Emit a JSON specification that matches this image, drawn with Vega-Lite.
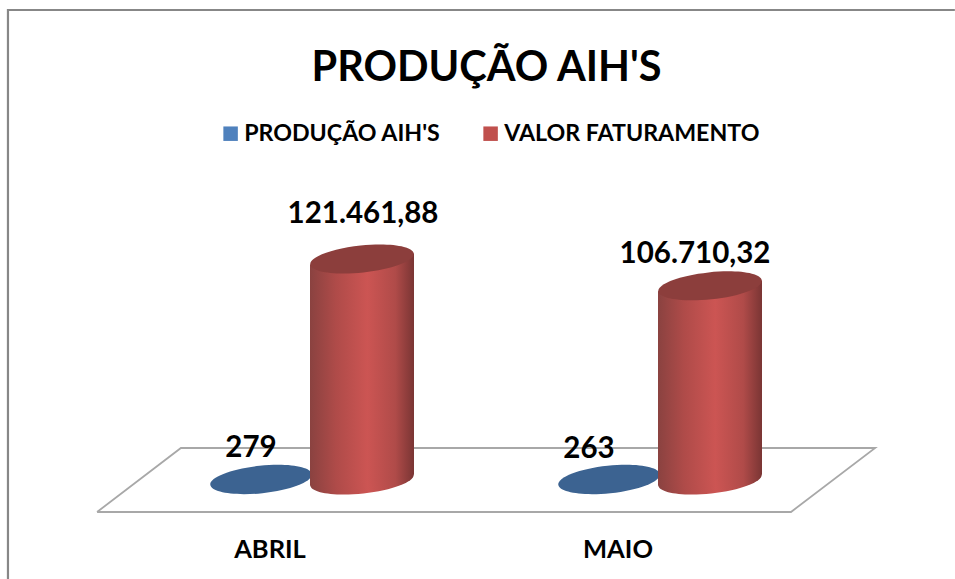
{
"$schema":"https://vega.github.io/schema/vega-lite/v6.json",
"width":955,"height":579,"autosize":"none","padding":0,"background":"white",
"config":{"view":{"stroke":null},"font":"Lato"},
"title":{"text":"PRODUÇÃO AIH'S","font":"Lato","fontSize":41.5,"fontWeight":"bold","color":"black","anchor":"middle","frame":"group","dx":9,"offset":-122,"baseline":"alphabetic"},
"datasets":{
"barras":[
{"mes":"ABRIL","serie":"PRODUÇÃO AIH'S","valor":279,"rotulo":"279"},
{"mes":"ABRIL","serie":"VALOR FATURAMENTO","valor":121461.88,"rotulo":"121.461,88"},
{"mes":"MAIO","serie":"PRODUÇÃO AIH'S","valor":263,"rotulo":"263"},
{"mes":"MAIO","serie":"VALOR FATURAMENTO","valor":106710.32,"rotulo":"106.710,32"}],
"piso":[
{"pos":0.003,"valor":-17587,"ordem":1},{"pos":1.997,"valor":-17587,"ordem":2},{"pos":2.239,"valor":17587,"ordem":3},{"pos":0.244,"valor":17587,"ordem":4},{"pos":0.003,"valor":-17587,"ordem":5}],
"moldura":[
{"pos":-0.253,"valor":-54411,"ordem":1},{"pos":-0.253,"valor":258312,"ordem":2},{"pos":2.468,"valor":258312,"ordem":3}]
},
"data":{"name":"barras"},
"encoding":{"y":{"field":"valor","type":"quantitative","axis":null,"scale":{"domain":[-54411,263808],"range":[579,0],"nice":false,"zero":false}}},
"resolve":{"scale":{"x":"independent"}},
"layer":[
{"data":{"name":"moldura"},"mark":{"type":"line","stroke":"#878787","strokeWidth":2.2,"clip":true},
 "encoding":{"x":{"field":"pos","type":"quantitative","axis":null,"scale":{"domain":[-0.2759,2.4684],"nice":false,"zero":false}},"order":{"field":"ordem"}}},
{"data":{"name":"piso"},"mark":{"type":"line","stroke":"#a8a8a8","strokeWidth":1.8},
 "encoding":{"x":{"field":"pos","type":"quantitative","axis":null,"scale":{"domain":[-0.2759,2.4684],"nice":false,"zero":false}},"order":{"field":"ordem"}}},
{"encoding":{
  "x":{"field":"mes","type":"nominal","title":null,"scale":{"range":[96,792],"paddingInner":0,"paddingOuter":0},
       "axis":{"domain":false,"ticks":false,"labelAngle":0,"labelFont":"Lato","labelFontSize":25.5,"labelFontWeight":"bold","labelColor":"black","offset":-42,"labelPadding":0,"grid":false}},
  "xOffset":{"field":"serie","type":"nominal","scale":{"range":[114.5,316.5],"paddingInner":0,"paddingOuter":0}}},
 "layer":[
 {"mark":{"type":"bar","size":90},
  "encoding":{"y2":{"datum":0},"color":{"field":"serie","type":"nominal","scale":{"domain":["PRODUÇÃO AIH'S","VALOR FATURAMENTO"],"range":["#4f81bd","#c0504d"]},
    "legend":{"title":null,"orient":"none","legendX":219,"legendY":122,"direction":"horizontal","symbolType":"square","symbolSize":210,"labelFont":"Lato","labelFontSize":23.2,"labelFontWeight":"bold","labelColor":"black","labelLimit":400,"columnPadding":38,"labelOffset":2}}}},
 {"transform":[{"filter":"datum.serie==\"PRODUÇÃO AIH'S\""}],
  "mark":{"type":"point","filled":true,"opacity":1,"color":"#3c6391","size":10400,"angle":-6,"shape":"M-1,0A1,0.27,0,1,1,1,0A1,0.27,0,1,1,-1,0Z"}},
 {"transform":[{"filter":"datum.serie==\"VALOR FATURAMENTO\""}],
  "layer":[
  {"mark":{"type":"point","filled":true,"opacity":1,"size":10816,"angle":-6,"shape":"M-1,0A1,0.26,0,1,1,1,0A1,0.26,0,1,1,-1,0Z","color":{"gradient":"linear","x1":0,"x2":1,"y1":0,"y2":0,"stops":[{"offset":0,"color":"#8a4240"},{"offset":0.25,"color":"#af4b49"},{"offset":0.55,"color":"#cc5553"},{"offset":0.82,"color":"#b04b49"},{"offset":1,"color":"#7a3534"}]}},
   "encoding":{"y":{"datum":0}}},
  {"mark":{"type":"point","filled":true,"opacity":1,"size":10816,"shape":"M-1,0.105L1,-0.105L1,-0.45L-1,-0.45Z","color":{"gradient":"linear","x1":0,"x2":1,"y1":0,"y2":0,"stops":[{"offset":0,"color":"#8a4240"},{"offset":0.25,"color":"#af4b49"},{"offset":0.55,"color":"#cc5553"},{"offset":0.82,"color":"#b04b49"},{"offset":1,"color":"#7a3534"}]}},
   "encoding":{"y":{"datum":0}}},
  {"mark":{"type":"bar","size":104,"yOffset":10,"y2Offset":-10,"color":{"gradient":"linear","x1":0,"x2":1,"y1":0,"y2":0,"stops":[{"offset":0,"color":"#8a4240"},{"offset":0.25,"color":"#af4b49"},{"offset":0.55,"color":"#cc5553"},{"offset":0.82,"color":"#b04b49"},{"offset":1,"color":"#7a3534"}]}},
   "encoding":{"y2":{"datum":0}}},
  {"mark":{"type":"point","filled":true,"opacity":1,"size":10816,"shape":"M-1,0.105L1,-0.105L1,0.45L-1,0.45Z","color":{"gradient":"linear","x1":0,"x2":1,"y1":0,"y2":0,"stops":[{"offset":0,"color":"#8a4240"},{"offset":0.25,"color":"#af4b49"},{"offset":0.55,"color":"#cc5553"},{"offset":0.82,"color":"#b04b49"},{"offset":1,"color":"#7a3534"}]}}},
  {"mark":{"type":"point","filled":true,"opacity":1,"size":10816,"angle":-6,"shape":"M-1,0A1,0.26,0,1,1,1,0A1,0.26,0,1,1,-1,0Z","color":"#8c3e3c"}}
  ]},
 {"transform":[{"filter":"datum.mes==\"ABRIL\" && datum.serie==\"PRODUÇÃO AIH'S\""}],
  "mark":{"type":"text","font":"Lato","fontSize":29.5,"fontWeight":"bold","color":"black","dx":-10,"dy":-31},
  "encoding":{"text":{"field":"rotulo"}}},
 {"transform":[{"filter":"datum.mes==\"MAIO\" && datum.serie==\"PRODUÇÃO AIH'S\""}],
  "mark":{"type":"text","font":"Lato","fontSize":29.5,"fontWeight":"bold","color":"black","dx":-20,"dy":-31},
  "encoding":{"text":{"field":"rotulo"}}},
 {"transform":[{"filter":"datum.mes==\"ABRIL\" && datum.serie==\"VALOR FATURAMENTO\""}],
  "mark":{"type":"text","font":"Lato","fontSize":29.5,"fontWeight":"bold","color":"black","dx":1,"dy":-45},
  "encoding":{"text":{"field":"rotulo"}}},
 {"transform":[{"filter":"datum.mes==\"MAIO\" && datum.serie==\"VALOR FATURAMENTO\""}],
  "mark":{"type":"text","font":"Lato","fontSize":29.5,"fontWeight":"bold","color":"black","dx":-15,"dy":-32},
  "encoding":{"text":{"field":"rotulo"}}}
 ]}
]
}
